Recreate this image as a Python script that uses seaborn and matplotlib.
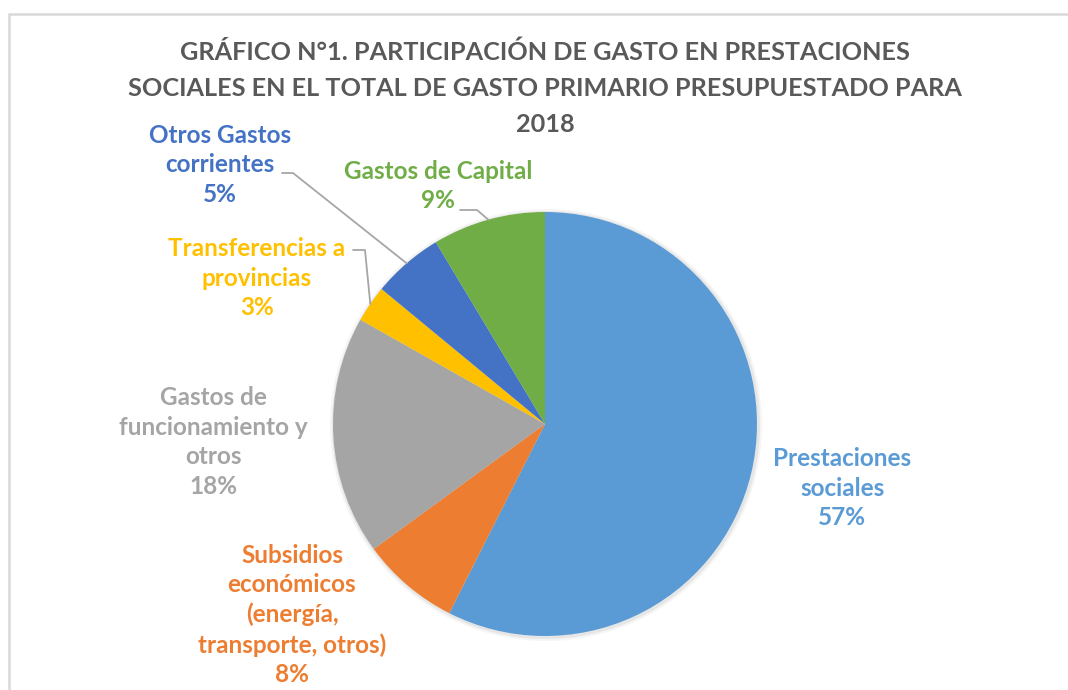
import matplotlib
matplotlib.use("Agg")
import numpy as np
import matplotlib.pyplot as plt
from matplotlib.patches import Rectangle, Circle
import seaborn as sns

# data (shares of primary spending, %)
categories = [
    "Prestaciones\nsociales",
    "Subsidios\neconómicos\n(energía,\ntransporte, otros)",
    "Gastos de\nfuncionamiento y\notros",
    "Transferencias a\nprovincias",
    "Otros Gastos\ncorrientes",
    "Gastos de Capital",
]
shares = [57.4, 7.5, 18.2, 2.8, 5.4, 8.6]
colors = ["#5B9BD5", "#ED7D31", "#A5A5A5", "#FFC000", "#4472C4", "#70AD47"]
title_lines = ["GRÁFICO N°1. PARTICIPACIÓN DE GASTO EN PRESTACIONES",
               "SOCIALES EN EL TOTAL DE GASTO PRIMARIO PRESUPUESTADO PARA",
               "2018"]

# label block centres (pixels from top-left) and leader elbows
label_pos = [(842, 488), (292, 615), (213, 442), (257, 278), (220, 165), (438, 186)]
leaders = {3: [(353, 250), (365, 250)], 4: [(282, 173), (293, 173)], 5: [(460, 210), (477, 210)]}

sns.set_theme(style="white")
plt.rcParams["font.family"] = ["Lato", "DejaVu Sans"]

W, H = 1068, 690
fig = plt.figure(figsize=(W / 100, H / 100), dpi=100)
ax = fig.add_axes([0, 0, 1, 1])

cx, cy, r = 545, 424, 212
# soft shadow behind the pie
for k, a in [(4, 0.04), (2, 0.06)]:
    ax.add_patch(Circle((cx + 1, H - cy - 1), r + k, color="black", alpha=a, lw=0, zorder=0))

wedges, _ = ax.pie(shares, colors=colors, startangle=90, counterclock=False,
                   center=(cx, H - cy), radius=r, wedgeprops=dict(linewidth=0))
ax.set_xlim(0, W)
ax.set_ylim(0, H)
ax.set_aspect("equal")
ax.axis("off")

total = sum(shares)
for i, (cat, v) in enumerate(zip(categories, shares)):
    x, y = label_pos[i]
    ax.text(x, H - y, f"{cat}\n{100 * v / total:.0f}%", ha="center", va="center",
            fontsize=17.5, fontweight="bold", color=colors[i], linespacing=1.34)

for i, pts in leaders.items():
    w = wedges[i]
    th = np.deg2rad((w.theta1 + w.theta2) / 2)
    ex, ey = cx + r * np.cos(th), H - cy + r * np.sin(th)
    xs = [p[0] for p in pts] + [ex]
    ys = [H - p[1] for p in pts] + [ey]
    ax.plot(xs, ys, color="#A6A6A6", lw=1.3)

for line, y in zip(title_lines, [52, 88, 124]):
    ax.text(545, H - y, line, ha="center", va="center", fontsize=18.2,
            fontweight="bold", color="#595959")

ax.add_patch(Rectangle((9, -30), W + 40, H - 14 + 30, fill=False,
                       edgecolor="#D9D9D9", lw=1.8))

fig.savefig("out.png", dpi=100)
